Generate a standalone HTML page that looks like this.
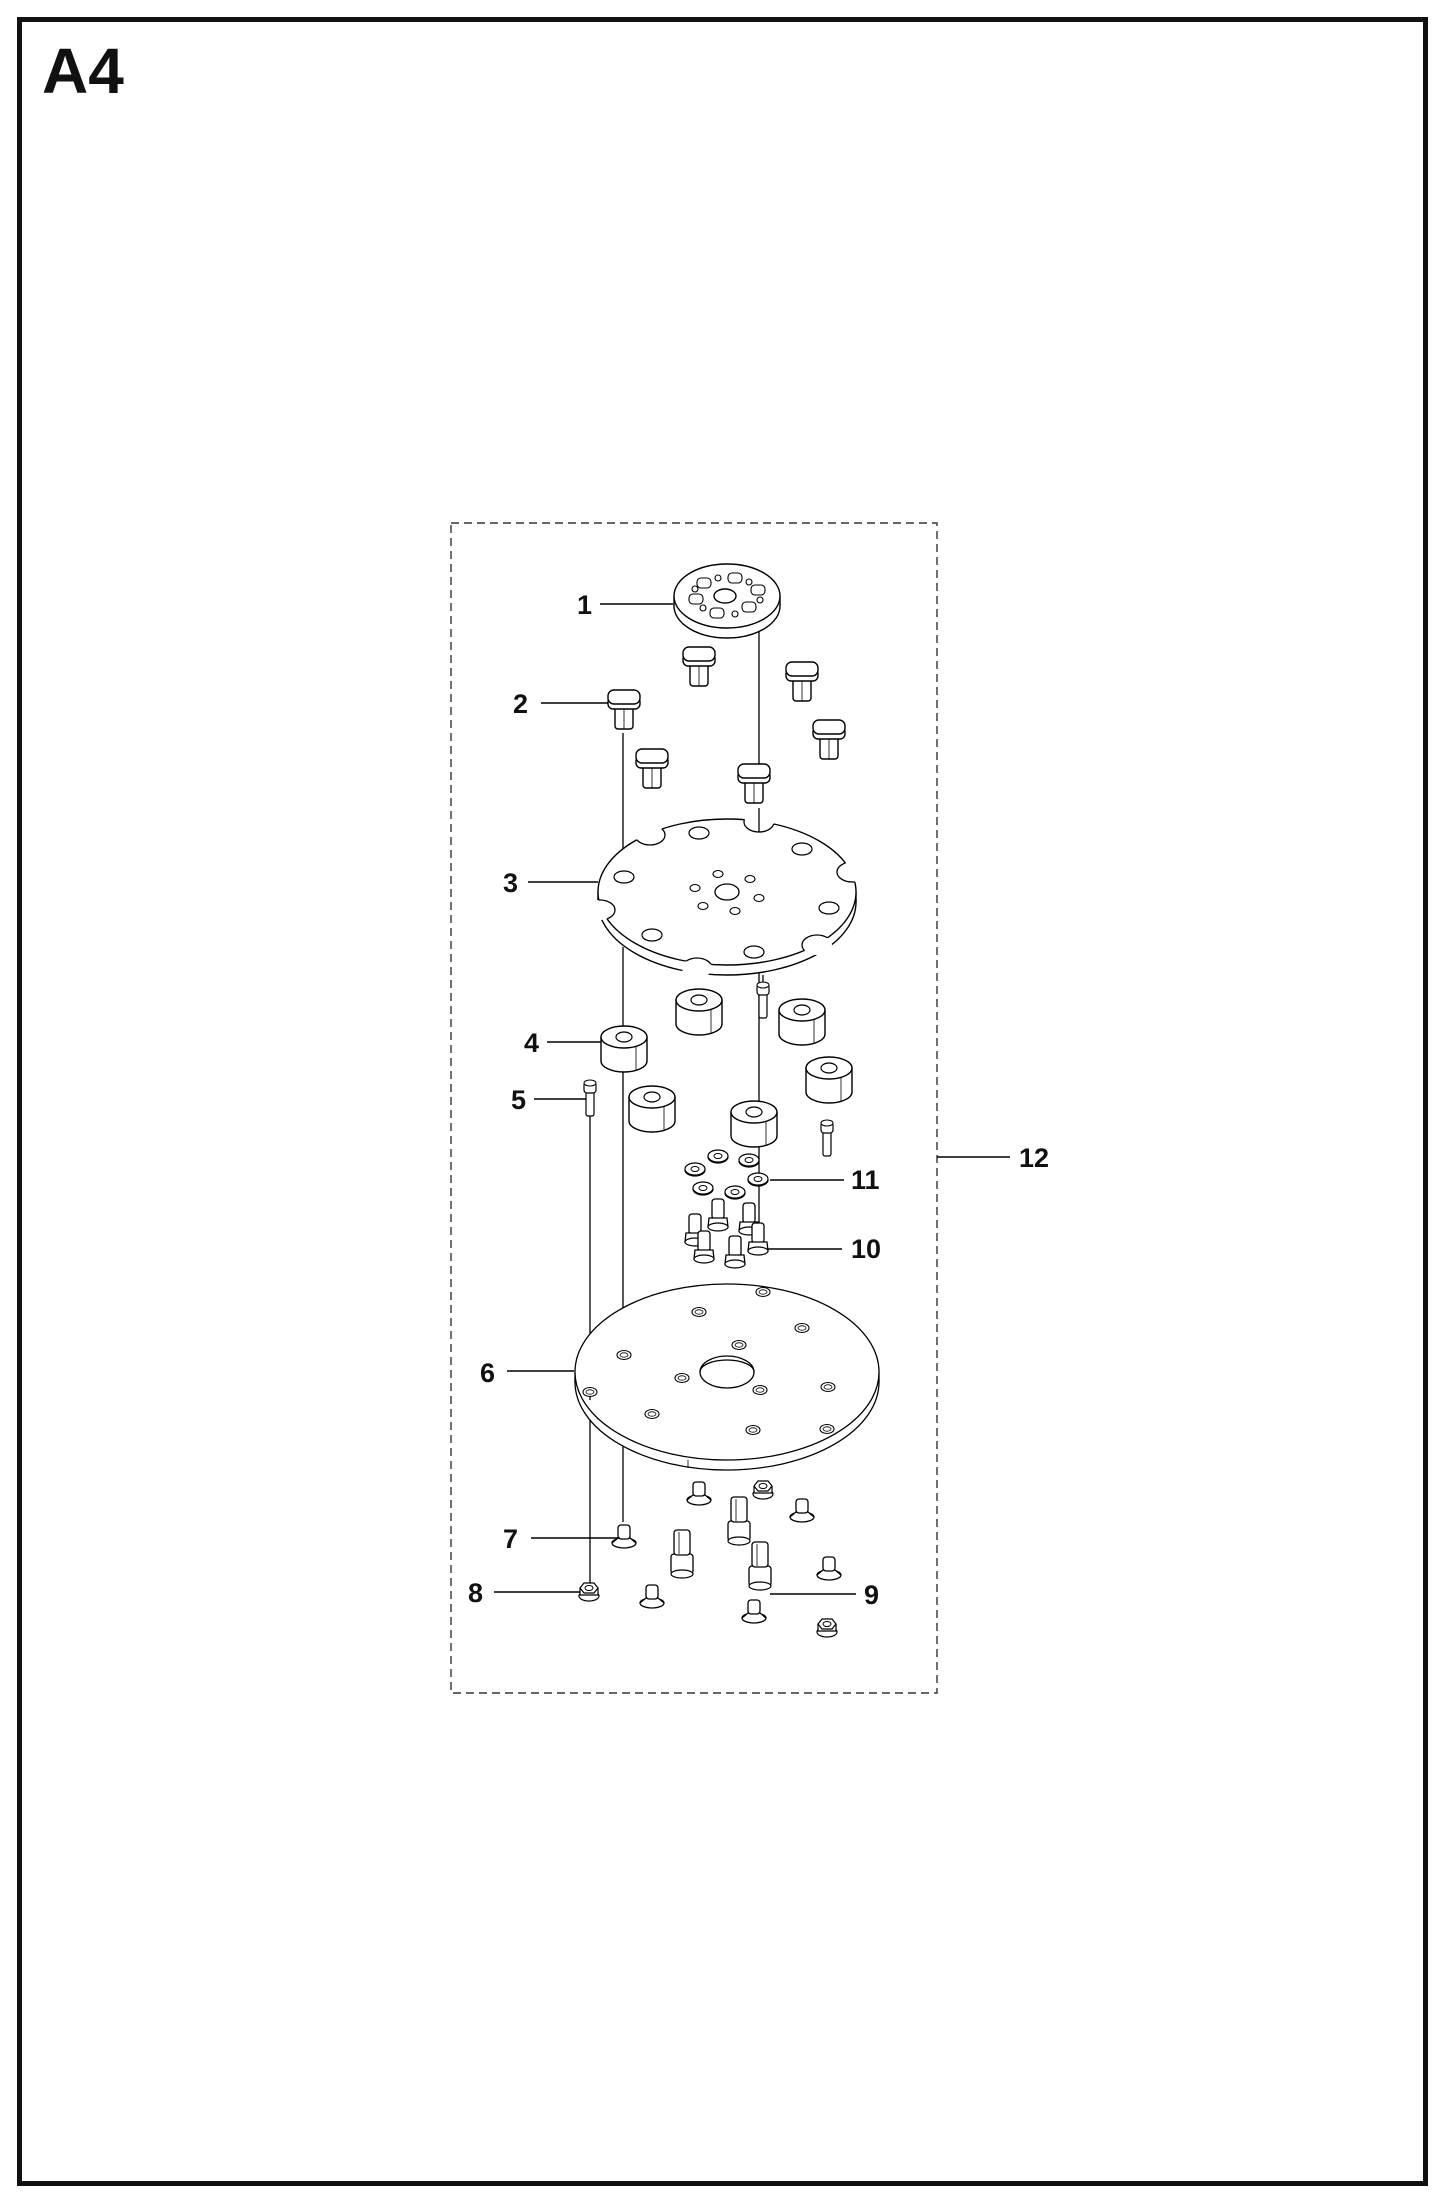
<!DOCTYPE html>
<html><head><meta charset="utf-8"><style>
html,body{margin:0;padding:0;background:#fff;}
svg{display:block;}
text{font-family:"Liberation Sans",sans-serif;font-weight:bold;fill:#111;}
</style></head><body>
<svg width="1445" height="2210" viewBox="0 0 1445 2210" xmlns="http://www.w3.org/2000/svg">
<defs>
  <g id="tpin">
    <rect x="-9" y="4" width="18" height="24" rx="3" fill="#fff" stroke="#000" stroke-width="1.4"/>
    <line x1="0" y1="6" x2="0" y2="28" stroke="#000" stroke-width="0.8"/>
    <rect x="-16" y="-4" width="32" height="12" rx="5" fill="#fff" stroke="#000" stroke-width="1.4"/>
    <rect x="-16" y="-11" width="32" height="14" rx="6" fill="#fff" stroke="#000" stroke-width="1.4"/>
  </g>
  <g id="spacer">
    <path d="M-23 0 L-23 24 A23 11 0 0 0 23 24 L23 0" fill="#fff" stroke="#000" stroke-width="1.4"/>
    <line x1="12" y1="9" x2="12" y2="34" stroke="#000" stroke-width="0.8"/>
    <ellipse cx="0" cy="0" rx="23" ry="11" fill="#fff" stroke="#000" stroke-width="1.4"/>
    <ellipse cx="0" cy="0" rx="8" ry="5" fill="#fff" stroke="#000" stroke-width="1.2"/>
  </g>
  <g id="washer">
    <ellipse cx="0" cy="1" rx="10" ry="6" fill="#fff" stroke="#000" stroke-width="1.2"/>
    <ellipse cx="0" cy="0" rx="10" ry="6" fill="#fff" stroke="#000" stroke-width="1.2"/>
    <ellipse cx="0" cy="0" rx="4" ry="2.5" fill="#fff" stroke="#000" stroke-width="1"/>
  </g>
  <g id="hexbolt">
    <rect x="-6" y="-24" width="12" height="20" rx="3" fill="#fff" stroke="#000" stroke-width="1.3"/>
    <path d="M-9 -5 L9 -5 L10 4 L-10 4 Z" fill="#fff" stroke="#000" stroke-width="1.3"/>
    <ellipse cx="0" cy="4" rx="10" ry="4" fill="#fff" stroke="#000" stroke-width="1.2"/>
  </g>
  <g id="capbolt">
    <rect x="-4" y="0" width="8" height="26" rx="2" fill="#fff" stroke="#000" stroke-width="1.2"/>
    <rect x="-6" y="-8" width="12" height="11" rx="3" fill="#fff" stroke="#000" stroke-width="1.2"/>
    <ellipse cx="0" cy="-7" rx="6" ry="3" fill="#fff" stroke="#000" stroke-width="1"/>
  </g>
  <g id="csk">
    <ellipse cx="0" cy="0" rx="12" ry="5" fill="#fff" stroke="#000" stroke-width="1.3"/>
    <path d="M-12 0 L-6 -5 L6 -5 L12 0" fill="#fff" stroke="#000" stroke-width="1.2"/>
    <rect x="-6" y="-18" width="12" height="14" rx="3" fill="#fff" stroke="#000" stroke-width="1.3"/>
  </g>
  <g id="nut">
    <ellipse cx="0" cy="4" rx="10" ry="5" fill="#fff" stroke="#000" stroke-width="1.2"/>
    <path d="M-9 -4 L-9 3 L9 3 L9 -4" fill="#fff" stroke="#000" stroke-width="1.2"/>
    <path d="M-9 -4 L-5 -9 L5 -9 L9 -4 L5 1 L-5 1 Z" fill="#fff" stroke="#000" stroke-width="1.2"/>
    <ellipse cx="0" cy="-4" rx="4" ry="2.5" fill="#fff" stroke="#000" stroke-width="1"/>
  </g>
  <g id="standoff">
    <rect x="-11" y="-16" width="22" height="20" rx="3" fill="#fff" stroke="#000" stroke-width="1.3"/>
    <ellipse cx="0" cy="4" rx="11" ry="4" fill="#fff" stroke="#000" stroke-width="1.2"/>
    <rect x="-8" y="-40" width="16" height="25" rx="3" fill="#fff" stroke="#000" stroke-width="1.3"/>
    <line x1="-3" y1="-38" x2="-3" y2="-16" stroke="#000" stroke-width="0.8"/>
  </g>
  <g id="hole6">
    <ellipse cx="0" cy="0" rx="7" ry="4.5" fill="#fff" stroke="#000" stroke-width="1.1"/>
    <ellipse cx="0" cy="0" rx="4" ry="2.2" fill="none" stroke="#000" stroke-width="0.8"/>
  </g>
  <g id="hole3">
    <ellipse cx="0" cy="0" rx="10" ry="6" fill="#fff" stroke="#000" stroke-width="1.2"/>
    <path d="M-9 2 A9 4 0 0 0 9 2" fill="none" stroke="#000" stroke-width="1"/>
  </g>
  <clipPath id="p3clip"><ellipse cx="727" cy="892" rx="129" ry="73"/></clipPath>
  <mask id="p3mask">
    <rect x="0" y="0" width="1445" height="2210" fill="#fff"/>
    <g fill="#000">
      <ellipse cx="759" cy="822" rx="15" ry="10"/>
      <ellipse cx="650" cy="835" rx="15" ry="10"/>
      <ellipse cx="852" cy="872" rx="15" ry="10"/>
      <ellipse cx="600" cy="910" rx="15" ry="10"/>
      <ellipse cx="817" cy="945" rx="15" ry="10"/>
      <ellipse cx="697" cy="968" rx="15" ry="10"/>
    </g>
  </mask>
</defs>

<!-- outer border -->
<rect x="19.5" y="19.5" width="1406" height="2164" fill="none" stroke="#111" stroke-width="5"/>
<text x="42" y="93" font-size="64">A4</text>

<!-- dashed kit box -->
<rect x="451" y="523" width="486" height="1170" fill="none" stroke="#333" stroke-width="1.4" stroke-dasharray="8,5"/>

<!-- leader/axis lines -->
<g stroke="#000" stroke-width="1.3" fill="none">
  <line x1="759" y1="632" x2="759" y2="770"/>
  <line x1="759" y1="808" x2="759" y2="898"/>
  <line x1="759" y1="973" x2="759" y2="1103"/>
  <line x1="759" y1="1143" x2="759" y2="1230"/>
  <line x1="623" y1="733" x2="623" y2="877"/>
  <line x1="623" y1="947" x2="623" y2="1027"/>
  <line x1="623" y1="1067" x2="623" y2="1355"/>
  <line x1="623" y1="1445" x2="623" y2="1522"/>
  <line x1="590" y1="1112" x2="590" y2="1392"/>
  <line x1="590" y1="1400" x2="590" y2="1585"/>
  <line x1="763" y1="975" x2="763" y2="985"/>
</g>

<!-- Part 1 disk -->
<g stroke="#000" stroke-width="1.4">
  <ellipse cx="727" cy="606" rx="53" ry="32" fill="#fff"/>
  <rect x="674" y="596" width="106" height="10" fill="#fff" stroke="none"/>
  <line x1="674" y1="596" x2="674" y2="606"/>
  <line x1="780" y1="596" x2="780" y2="606"/>
  <ellipse cx="727" cy="596" rx="53" ry="32" fill="#fff"/>
  <ellipse cx="725" cy="596" rx="11" ry="7" fill="#fff"/>
  <g fill="#fff" stroke-width="1.1">
    <rect x="697" y="578" width="14" height="10" rx="4"/>
    <rect x="728" y="573" width="14" height="10" rx="4"/>
    <rect x="751" y="585" width="14" height="10" rx="4"/>
    <rect x="742" y="602" width="14" height="10" rx="4"/>
    <rect x="710" y="608" width="14" height="10" rx="4"/>
    <rect x="689" y="594" width="14" height="10" rx="4"/>
    <circle cx="718" cy="578" r="3"/>
    <circle cx="749" cy="582" r="3"/>
    <circle cx="760" cy="600" r="3"/>
    <circle cx="735" cy="614" r="3"/>
    <circle cx="703" cy="608" r="3"/>
    <circle cx="695" cy="589" r="3"/>
  </g>
</g>

<!-- T pins (part 2) -->
<use href="#tpin" x="699" y="658"/>
<use href="#tpin" x="802" y="673"/>
<use href="#tpin" x="624" y="701"/>
<use href="#tpin" x="829" y="731"/>
<use href="#tpin" x="652" y="760"/>
<use href="#tpin" x="754" y="775"/>

<!-- Part 3 plate -->
<g mask="url(#p3mask)">
  <ellipse cx="727" cy="902" rx="129" ry="73" fill="#fff" stroke="#000" stroke-width="1.4"/>
  <rect x="598" y="892" width="258" height="10" fill="#fff"/>
  <line x1="598" y1="892" x2="598" y2="902" stroke="#000" stroke-width="1.4"/>
  <line x1="856" y1="892" x2="856" y2="902" stroke="#000" stroke-width="1.4"/>
  <ellipse cx="727" cy="892" rx="129" ry="73" fill="#fff" stroke="#000" stroke-width="1.4"/>
</g>
<g clip-path="url(#p3clip)" fill="none" stroke="#000" stroke-width="1.3">
  <ellipse cx="759" cy="822" rx="15" ry="10"/>
  <ellipse cx="650" cy="835" rx="15" ry="10"/>
  <ellipse cx="852" cy="872" rx="15" ry="10"/>
  <ellipse cx="600" cy="910" rx="15" ry="10"/>
  <ellipse cx="817" cy="945" rx="15" ry="10"/>
  <ellipse cx="697" cy="968" rx="15" ry="10"/>
</g>
<use href="#hole3" x="699" y="833"/>
<use href="#hole3" x="802" y="849"/>
<use href="#hole3" x="624" y="877"/>
<use href="#hole3" x="829" y="908"/>
<use href="#hole3" x="652" y="935"/>
<use href="#hole3" x="754" y="952"/>
<g fill="#fff" stroke="#000" stroke-width="1.1">
  <ellipse cx="718" cy="874" rx="5" ry="3.5"/>
  <ellipse cx="750" cy="879" rx="5" ry="3.5"/>
  <ellipse cx="695" cy="888" rx="5" ry="3.5"/>
  <ellipse cx="759" cy="898" rx="5" ry="3.5"/>
  <ellipse cx="703" cy="906" rx="5" ry="3.5"/>
  <ellipse cx="735" cy="911" rx="5" ry="3.5"/>
  <ellipse cx="727" cy="892" rx="12" ry="8" stroke-width="1.3"/>
</g>

<!-- spacers (part 4) -->
<use href="#spacer" x="699" y="1000"/>
<use href="#spacer" x="802" y="1010"/>
<use href="#capbolt" x="763" y="992"/>
<use href="#spacer" x="624" y="1037"/>
<use href="#spacer" x="829" y="1068"/>
<use href="#spacer" x="652" y="1097"/>
<use href="#spacer" x="754" y="1112"/>
<use href="#capbolt" x="590" y="1090"/>
<use href="#capbolt" x="827" y="1130"/>

<!-- washers (11) -->
<use href="#washer" x="718" y="1156"/>
<use href="#washer" x="749" y="1160"/>
<use href="#washer" x="695" y="1169"/>
<use href="#washer" x="758" y="1179"/>
<use href="#washer" x="703" y="1188"/>
<use href="#washer" x="735" y="1192"/>

<!-- hex bolts (10) -->
<use href="#hexbolt" x="718" y="1223"/>
<use href="#hexbolt" x="749" y="1227"/>
<use href="#hexbolt" x="695" y="1238"/>
<use href="#hexbolt" x="758" y="1247"/>
<use href="#hexbolt" x="704" y="1255"/>
<use href="#hexbolt" x="735" y="1260"/>

<!-- Part 6 plate -->
<g stroke="#000" stroke-width="1.3">
  <ellipse cx="727" cy="1382" rx="152" ry="88" fill="#fff"/>
  <rect x="575" y="1372" width="304" height="10" fill="#fff" stroke="none"/>
  <line x1="575" y1="1372" x2="575" y2="1382"/>
  <line x1="879" y1="1372" x2="879" y2="1382"/>
  <ellipse cx="727" cy="1372" rx="152" ry="88" fill="#fff"/>
  <ellipse cx="727" cy="1372" rx="27" ry="16" fill="#fff"/>
  <path d="M700 1372 A27 12 0 0 1 754 1372" fill="none"/>
  <line x1="688" y1="1460" x2="688" y2="1468" stroke-width="0.8"/>
</g>
<line x1="590" y1="1392" x2="590" y2="1400" stroke="#000" stroke-width="1.3"/>
<use href="#hole6" x="763" y="1292"/>
<use href="#hole6" x="699" y="1312"/>
<use href="#hole6" x="802" y="1328"/>
<use href="#hole6" x="739" y="1345"/>
<use href="#hole6" x="624" y="1355"/>
<use href="#hole6" x="682" y="1378"/>
<use href="#hole6" x="760" y="1390"/>
<use href="#hole6" x="828" y="1387"/>
<use href="#hole6" x="590" y="1392"/>
<use href="#hole6" x="652" y="1414"/>
<use href="#hole6" x="753" y="1430"/>
<use href="#hole6" x="827" y="1429"/>

<!-- bottom fasteners -->
<use href="#csk" x="699" y="1500"/>
<use href="#nut" x="763" y="1490"/>
<use href="#csk" x="802" y="1517"/>
<use href="#standoff" x="739" y="1537"/>
<use href="#csk" x="624" y="1543"/>
<use href="#standoff" x="682" y="1570"/>
<use href="#csk" x="829" y="1575"/>
<use href="#standoff" x="760" y="1582"/>
<use href="#nut" x="589" y="1592"/>
<use href="#csk" x="652" y="1603"/>
<use href="#csk" x="754" y="1618"/>
<use href="#nut" x="827" y="1628"/>

<!-- callout lines -->
<g stroke="#000" stroke-width="1.4">
  <line x1="600" y1="604" x2="673" y2="604"/>
  <line x1="541" y1="703" x2="608" y2="703"/>
  <line x1="528" y1="882" x2="598" y2="882"/>
  <line x1="547" y1="1042" x2="601" y2="1042"/>
  <line x1="534" y1="1099" x2="586" y2="1099"/>
  <line x1="770" y1="1180" x2="844" y2="1180"/>
  <line x1="768" y1="1249" x2="842" y2="1249"/>
  <line x1="507" y1="1371" x2="574" y2="1371"/>
  <line x1="531" y1="1538" x2="620" y2="1538"/>
  <line x1="494" y1="1592" x2="580" y2="1592"/>
  <line x1="770" y1="1594" x2="856" y2="1594"/>
  <line x1="937" y1="1157" x2="1010" y2="1157"/>
</g>

<!-- labels -->
<g font-size="27">
  <text x="577" y="614">1</text>
  <text x="513" y="713">2</text>
  <text x="503" y="892">3</text>
  <text x="524" y="1052">4</text>
  <text x="511" y="1109">5</text>
  <text x="480" y="1382">6</text>
  <text x="503" y="1548">7</text>
  <text x="468" y="1602">8</text>
  <text x="864" y="1604">9</text>
  <text x="851" y="1258">10</text>
  <text x="851" y="1189">11</text>
  <text x="1019" y="1167">12</text>
</g>
</svg>
</body></html>
